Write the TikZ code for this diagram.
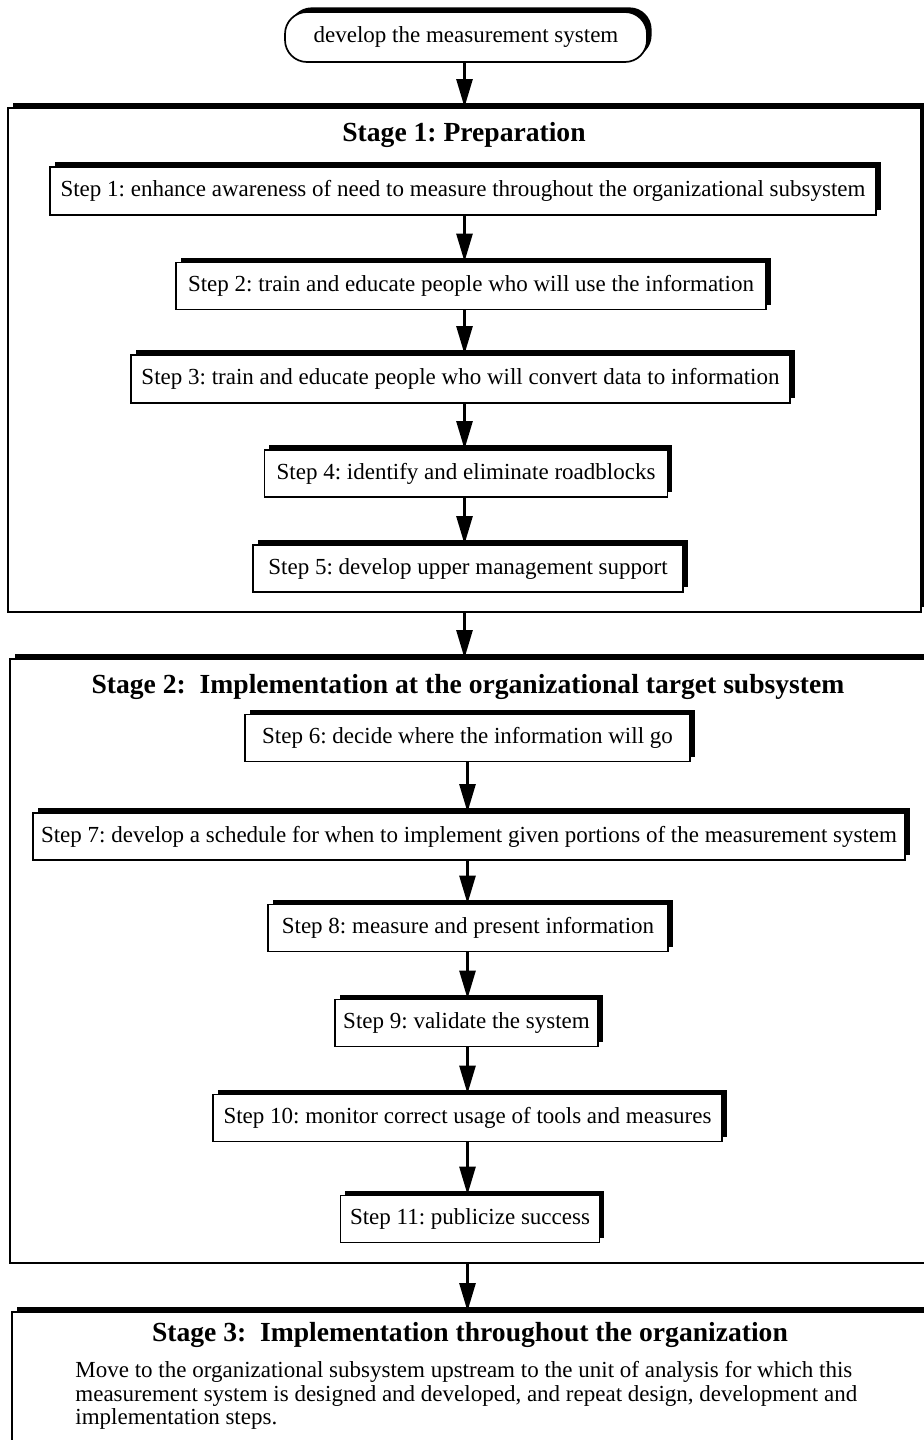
\documentclass[tikz,border=0pt]{standalone}
\usepackage{fontspec}
\setmainfont{Liberation Serif}
\usetikzlibrary{arrows.meta,shadows}
\frenchspacing

\tikzset{
  shadebox/.style={draw=black, line width=0.85pt, fill=white, inner sep=0pt,
    general shadow={fill=black, shadow xshift=2.3pt, shadow yshift=2.3pt}},
  stepbox/.style={shadebox, minimum height=23.5pt, font=\fontsize{11.5}{13}\selectfont},
  stagebox/.style={shadebox},
  startbox/.style={shadebox, rounded corners=11pt, font=\fontsize{11.5}{13}\selectfont},
  stagetitle/.style={inner sep=0pt, font=\bfseries\fontsize{13.8}{16}\selectfont},
  bodytext/.style={inner sep=0pt, align=left, font=\fontsize{11.5}{11.75}\selectfont},
  flow/.style={line width=1.3pt, -{Triangle[length=14pt,width=8pt]}},
}

\begin{document}
\begin{tikzpicture}[x=0.5pt, y=-0.5pt]
\useasboundingbox (0,0) rectangle (923,1440);
\fill[white] (0,0) rectangle (923,1440);

% start terminal
\node[startbox, minimum width=181pt, minimum height=25pt] (start) at (466,37) {develop the measurement system};

% stage frames
\node[stagebox, minimum width=456.5pt, minimum height=252pt] (stage1) at (464.5,360) {};
\node[stagebox, minimum width=460pt, minimum height=302pt] (stage2) at (470,961) {};
\node[stagebox, minimum width=459pt, minimum height=79pt] (stage3) at (471,1391) {};

% stage headings
\node[stagetitle] (title1) at (464,135) {Stage 1: Preparation};
\node[stagetitle] (title2) at (468,687) {Stage 2:\ \ Implementation at the organizational target subsystem};
\node[stagetitle] (title3) at (470,1335) {Stage 3:\ \ Implementation throughout the organization};

% stage 1 steps
\node[stepbox, minimum width=413pt, minimum height=24pt] (s1) at (463,191) {Step 1: enhance awareness of need to measure throughout the organizational subsystem};
\node[stepbox, minimum width=295pt] (s2) at (471,286) {Step 2: train and educate people who will use the information};
\node[stepbox, minimum width=329.5pt, minimum height=24pt] (s3) at (460.5,379) {Step 3: train and educate people who will convert data to information};
\node[stepbox, minimum width=201.5pt] (s4) at (466,473.5) {Step 4: identify and eliminate roadblocks};
\node[stepbox, minimum width=215pt] (s5) at (468,568.5) {Step 5: develop upper management support};

% stage 2 steps
\node[stepbox, minimum width=222.5pt] (s6) at (467.5,738) {Step 6: decide where the information will go};
\node[stepbox, minimum width=436pt] (s7) at (469,836.5) {Step 7: develop a schedule for when to implement given portions of the measurement system};
\node[stepbox, minimum width=200pt] (s8) at (468,928) {Step 8: measure and present information};
\node[stepbox, minimum width=131.5pt] (s9) at (466.5,1023) {Step 9: validate the system};
\node[stepbox, minimum width=254.5pt] (s10) at (467.5,1118) {Step 10: monitor correct usage of tools and measures};
\node[stepbox, minimum width=129.5pt] (s11) at (470,1219) {Step 11: publicize success};

% stage 3 description
\node[bodytext, anchor=north west] (body) at (75,1361) {Move to the organizational subsystem upstream to the unit of analysis for which this\\
measurement system is designed and developed, and repeat design, development and\\
implementation steps.};

% connectors
\coordinate (ax) at (464.5,0);
\coordinate (bx) at (467.5,0);
\draw[flow] (start.south -| ax) -- (stage1.north -| ax);
\draw[flow] (s1.south -| ax) -- (s2.north -| ax);
\draw[flow] (s2.south -| ax) -- (s3.north -| ax);
\draw[flow] (s3.south -| ax) -- (s4.north -| ax);
\draw[flow] (s4.south -| ax) -- (s5.north -| ax);
\draw[flow] (stage1.south -| ax) -- (stage2.north -| ax);
\draw[flow] (s6.south -| bx) -- (s7.north -| bx);
\draw[flow] (s7.south -| bx) -- (s8.north -| bx);
\draw[flow] (s8.south -| bx) -- (s9.north -| bx);
\draw[flow] (s9.south -| bx) -- (s10.north -| bx);
\draw[flow] (s10.south -| bx) -- (s11.north -| bx);
\draw[flow] (stage2.south -| bx) -- (stage3.north -| bx);
\end{tikzpicture}
\end{document}
